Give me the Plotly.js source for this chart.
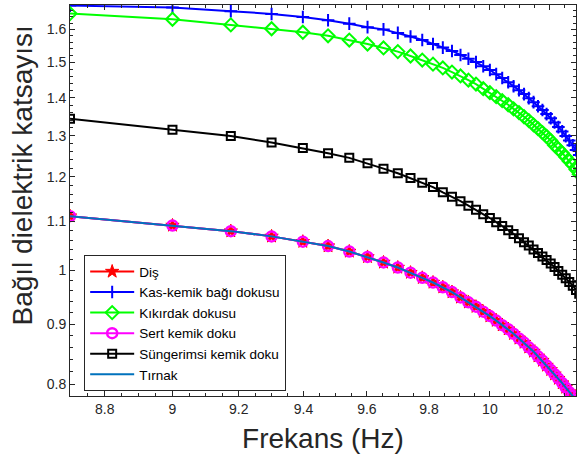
<!DOCTYPE html>
<html>
<head>
<meta charset="utf-8">
<script src="https://cdn.plot.ly/plotly-3.0.1.min.js"></script>
<style>html,body{margin:0;padding:0;background:#fff;}#chart{width:577px;height:463px;}</style>
</head>
<body>
<div id="chart"></div>
<script>
// log10 of frequency (Hz)
const logFreq = [8.699, 9.000, 9.176, 9.301, 9.398, 9.477, 9.544, 9.602, 9.653, 9.699,
  9.740, 9.778, 9.813, 9.845, 9.875, 9.903, 9.929, 9.954, 9.978, 10.000,
  10.021, 10.041, 10.061, 10.079, 10.097, 10.114, 10.130, 10.146, 10.161, 10.176,
  10.190, 10.204, 10.217, 10.230, 10.243, 10.255, 10.267, 10.279, 10.290, 10.301];

const kasKemik = [1.676, 1.670, 1.658, 1.649, 1.639, 1.629, 1.618, 1.607, 1.600, 1.589,
  1.578, 1.567, 1.555, 1.544, 1.534, 1.522, 1.511, 1.501, 1.489, 1.478,
  1.466, 1.455, 1.443, 1.432, 1.421, 1.410, 1.399, 1.388, 1.377, 1.367,
  1.356, 1.345, 1.334, 1.322, 1.311, 1.299, 1.288, 1.276, 1.264, 1.252];

const kikirdak = [1.650, 1.632, 1.614, 1.602, 1.591, 1.580, 1.567, 1.555, 1.543, 1.532,
  1.519, 1.507, 1.495, 1.484, 1.472, 1.461, 1.449, 1.438, 1.425, 1.414,
  1.403, 1.392, 1.381, 1.370, 1.360, 1.349, 1.339, 1.328, 1.318, 1.308,
  1.298, 1.288, 1.276, 1.267, 1.257, 1.247, 1.237, 1.228, 1.217, 1.206];

const sungerimsi = [1.344, 1.315, 1.299, 1.283, 1.269, 1.256, 1.245, 1.232, 1.219, 1.208,
  1.197, 1.186, 1.176, 1.164, 1.154, 1.144, 1.134, 1.125, 1.115, 1.107,
  1.098, 1.090, 1.081, 1.073, 1.064, 1.056, 1.049, 1.041, 1.034, 1.027,
  1.020, 1.013, 1.006, 0.998, 0.991, 0.984, 0.977, 0.970, 0.962, 0.955];

const dis = [1.111, 1.091, 1.079, 1.068, 1.057, 1.048, 1.037, 1.026, 1.015, 1.005,
  0.995, 0.985, 0.976, 0.967, 0.958, 0.948, 0.939, 0.931, 0.922, 0.914,
  0.906, 0.898, 0.891, 0.883, 0.875, 0.868, 0.860, 0.853, 0.845, 0.838,
  0.830, 0.823, 0.816, 0.809, 0.802, 0.795, 0.788, 0.782, 0.776, 0.770];

const sertKemik = dis.slice();
const tirnak = dis.slice();

const seriesNames = ['Diş', 'Kas-kemik bağı dokusu', 'Kıkırdak dokusu', 'Sert kemik doku', 'Süngerimsi kemik doku', 'Tırnak'];

const xTicks = [8.8, 9, 9.2, 9.4, 9.6, 9.8, 10, 10.2];
const yTicks = [0.8, 0.9, 1, 1.1, 1.2, 1.3, 1.4, 1.5, 1.6];

const xMinor = [];
for (let v = 8.70; v < 10.30; v += 0.05) xMinor.push(+v.toFixed(2));
const yMinor = [];
for (let v = 0.78; v < 1.68; v += 0.02) yMinor.push(+v.toFixed(2));

const FONT = 'Liberation Sans, Arial, sans-serif';

const traces = [
  {x: logFreq, y: dis, name: seriesNames[0], mode: 'lines+markers',
   line: {color: '#ff0000', width: 2},
   marker: {symbol: 'star', size: 10, color: '#ff0000', line: {color: '#ff0000', width: 1}}},
  {x: logFreq, y: kasKemik, name: seriesNames[1], mode: 'lines+markers',
   line: {color: '#0000ff', width: 2},
   marker: {symbol: 'cross-thin-open', size: 9, color: '#0000ff', line: {color: '#0000ff', width: 2}}},
  {x: logFreq, y: kikirdak, name: seriesNames[2], mode: 'lines+markers',
   line: {color: '#00ff00', width: 2},
   marker: {symbol: 'diamond-open', size: 10, color: '#00ff00', line: {color: '#00ff00', width: 2}}},
  {x: logFreq, y: sertKemik, name: seriesNames[3], mode: 'lines+markers',
   line: {color: '#ff00ff', width: 2},
   marker: {symbol: 'circle-open', size: 10, color: '#ff00ff', line: {color: '#ff00ff', width: 2.5}}},
  {x: logFreq, y: sungerimsi, name: seriesNames[4], mode: 'lines+markers',
   line: {color: '#000000', width: 2},
   marker: {symbol: 'square-open', size: 8, color: '#000000', line: {color: '#000000', width: 2}}},
  {x: logFreq, y: tirnak, name: seriesNames[5], mode: 'lines',
   line: {color: '#0072BD', width: 2}}
];

const axisCommon = {
  type: 'log',
  showgrid: false,
  zeroline: false,
  showline: true,
  linecolor: '#262626',
  linewidth: 1,
  mirror: 'ticks',
  ticks: 'inside',
  ticklen: 5,
  tickcolor: '#262626',
  tickfont: {family: FONT, size: 14, color: '#262626'},
  tickmode: 'array'
};

const layout = {
  width: 577, height: 463,
  margin: {l: 70, r: 1, t: 5, b: 67},
  paper_bgcolor: '#ffffff',
  plot_bgcolor: '#ffffff',
  showlegend: true,
  xaxis: Object.assign({}, axisCommon, {
    range: [Math.log10(8.699), Math.log10(10.29)],
    tickvals: xTicks,
    ticktext: xTicks.map(String),
    minor: {tickmode: 'array', tickvals: xMinor, ticks: 'inside', ticklen: 3, tickcolor: '#262626'},
    title: {text: 'Frekans (Hz)', font: {family: FONT, size: 28, color: '#262626'}, standoff: 12}
  }),
  yaxis: Object.assign({}, axisCommon, {
    range: [Math.log10(0.782), Math.log10(1.678)],
    tickvals: yTicks,
    ticktext: yTicks.map(String),
    minor: {tickmode: 'array', tickvals: yMinor, ticks: 'inside', ticklen: 3, tickcolor: '#262626'}
  }),
  annotations: [{
    text: 'Bağıl dielektrik katsayısı',
    xref: 'paper', yref: 'paper',
    x: -0.094, y: 0.565,
    xanchor: 'center', yanchor: 'middle',
    textangle: -90, showarrow: false,
    font: {family: FONT, size: 28, color: '#262626'}
  }],
  legend: {
    x: 0.028, y: 0.36, xanchor: 'left', yanchor: 'top',
    bgcolor: '#ffffff', bordercolor: '#262626', borderwidth: 1,
    font: {family: FONT, size: 13.5, color: '#000000'},
    tracegroupgap: 0,
    itemwidth: 44
  }
};

Plotly.newPlot('chart', traces, layout, {displayModeBar: false, staticPlot: true});
</script>
</body>
</html>
